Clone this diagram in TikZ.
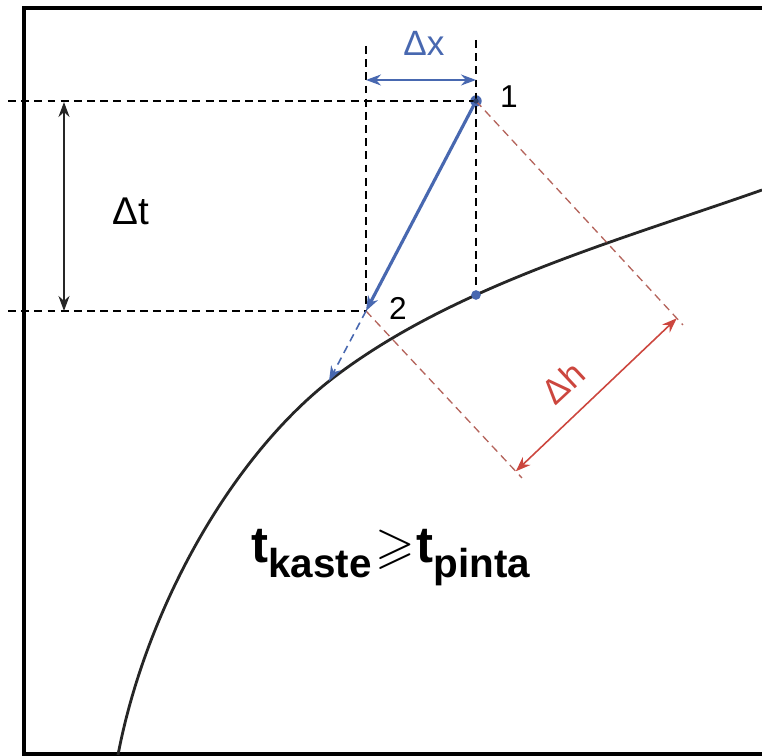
\documentclass[tikz,border=0pt]{standalone}
\usepackage{fontspec}
\usepackage{amssymb}
\setmainfont{Liberation Sans}
\usetikzlibrary{arrows.meta, positioning, calc}
\definecolor{velblue}{RGB}{72,104,176}
\definecolor{hred}{RGB}{204,70,62}
\definecolor{hdash}{RGB}{180,100,92}

\begin{document}
\begin{tikzpicture}[
    x=0.02cm, y=-0.02cm,
    frame/.style={line width=2.2pt},
    guide/.style={dash pattern=on 4.5pt off 3pt, line width=0.9pt},
    rguide/.style={guide, draw=hdash, line width=0.75pt},
    curve/.style={line width=1.6pt, draw=black!85},
    arrow/.style={-{Stealth[length=3mm, width=2.2mm]}},
    dimarrow/.style={{Stealth[length=3mm, width=2.2mm]}-{Stealth[length=3mm, width=2.2mm]}, line width=0.9pt},
    dot/.style={circle, fill=velblue, inner sep=0pt, minimum size=#1},
    dot/.default=6.5pt,
    lbl/.style={font=\fontsize{20}{22}\selectfont, inner sep=0pt}
]
    \useasboundingbox (0,0) rectangle (762,756);

    \draw[frame] (762,8) -- (24,8) -- (24,754) -- (762,754);

    \draw[curve] (118,755) .. controls (146,608) and (233,453) .. (337,375)
        .. controls (457,285) and (620,240) .. (762,190);

    \coordinate (p2) at (366,311);
    \coordinate (c2) at (329,381);
    \coordinate (tl) at (8,101);
    \coordinate (bl) at (8,311);
    \coordinate (xl) at (366,46);
    \coordinate (xr) at (476,40);
    \coordinate (h1) at (683,325);
    \coordinate (h2) at (522,478);
    \node[dot] (p1) at (476,101) {};
    \node[dot=5.5pt] (q) at (476,295) {};

    \draw[guide] (tl) -- (p1.center);
    \draw[guide] (bl) -- (p2);
    \draw[guide] (xl) -- (p2);
    \draw[guide] (xr) -- (q);

    \draw[rguide] (p1.center) -- (h1);
    \draw[rguide] (p2) -- (h2);

    \coordinate (xa) at (366,80);
    \coordinate (xb) at (476,80);
    \draw[dimarrow, velblue] (xa) -- (xb);
    \coordinate (ta) at (64,102);
    \coordinate (tb) at (64,311);
    \draw[dimarrow, black!85, line width=1.1pt] (ta) -- (tb);
    \draw[dimarrow, hred] ($(p1.center)!0.97!(h1)$) -- ($(p2)!0.96!(h2)$);

    \draw[arrow, velblue, line width=1.8pt] (p1.center) -- (p2);
    \draw[arrow, velblue, guide] (p2) -- (c2);
    \fill[velblue!60!black] (p1) circle (1.5pt);

    \node[lbl, velblue, anchor=base] (dx) at (424,56) {Δx};
    \node[lbl, font=\fontsize{18}{20}\selectfont, anchor=base] (n1) at (509,108) {1};
    \node[lbl, font=\fontsize{18}{20}\selectfont, anchor=base] (n2) at (398,320) {2};
    \node[lbl, anchor=base, font=\fontsize{22}{24}\selectfont] (dt) at (131,225) {Δt};
    \node[lbl, hred, rotate=43] (dh) at (563,383) {Δh};
    \node[anchor=base west, inner sep=0pt, font=\bfseries\fontsize{29}{31}\selectfont] (rule) at (251,563)
        {t\raisebox{-8.5pt}{\fontsize{23}{24}\selectfont kaste}\hspace{2pt}$\geqslant$\hspace{1pt}t\raisebox{-8.5pt}{\fontsize{23}{24}\selectfont pinta}};
\end{tikzpicture}
\end{document}
